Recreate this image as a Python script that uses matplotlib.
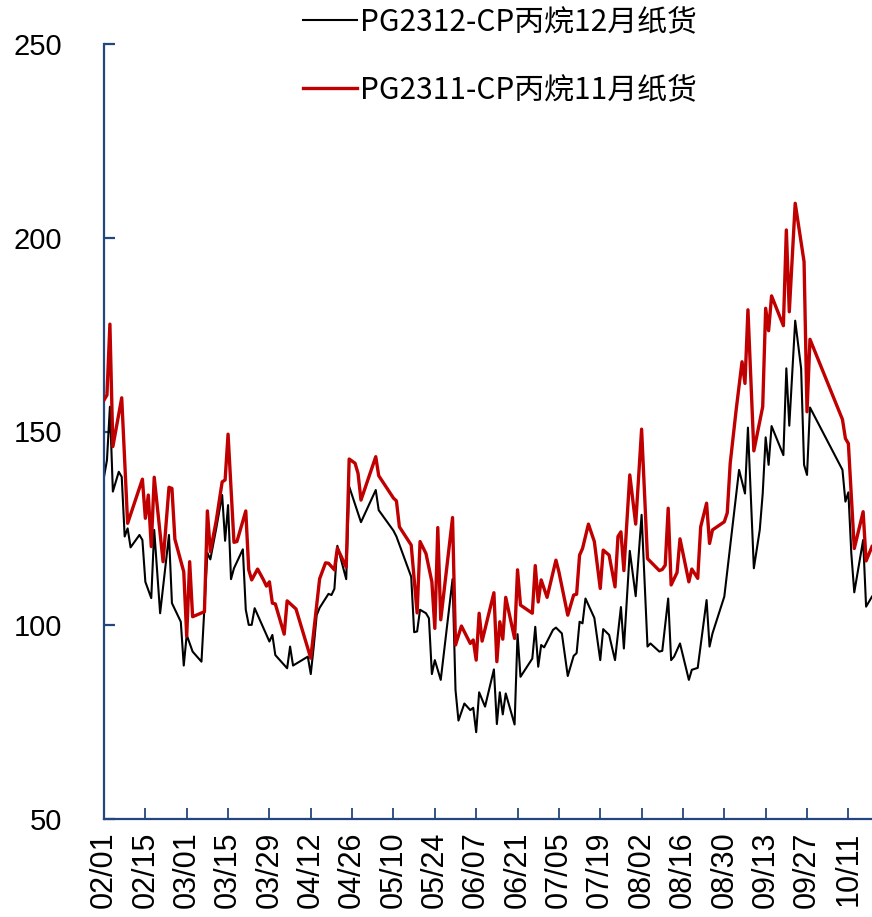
import numpy as np
import matplotlib
matplotlib.use("Agg")
import matplotlib.pyplot as plt
import matplotlib.dates as mdates

# -----------------------------
# Data (days counted from 2023-02-01)
# -----------------------------
start = np.datetime64("2023-02-01")

days_12 = [0, 1, 2, 3, 5, 6, 7, 8, 9, 12,
           13, 14, 16, 17, 19, 22, 23, 26, 27, 28,
           30, 33, 35, 36, 38, 40, 41, 42, 43, 44,
           47, 48, 49, 50, 51, 54, 56, 57, 58, 62,
           63, 64, 69, 70, 71, 72, 73, 76, 77, 78,
           79, 82, 83, 87, 92, 93, 98, 99, 104, 105,
           106, 107, 109, 110, 111, 112, 114, 118, 119, 120,
           122, 124, 125, 126, 127, 129, 132, 133, 134, 135,
           136, 139, 140, 141, 145, 146, 147, 148, 149, 152,
           153, 155, 157, 159, 160, 161, 162, 163, 166, 168,
           169, 171, 173, 175, 176, 178, 180, 182, 184, 185,
           188, 189, 191, 192, 193, 195, 198, 199, 201, 204,
           205, 206, 210, 215, 217, 218, 220, 222, 223, 224,
           225, 226, 230, 231, 232, 234, 236, 237, 238, 239,
           250, 251, 252, 253, 254, 257, 258, 260]
vals_12 = [138.3, 142.6, 156.4, 134.5, 139.6, 138.3, 122.9, 125.0, 120.1, 123.3,
           122.0, 111.2, 107.0, 124.6, 103.1, 123.3, 105.7, 100.9, 89.6, 97.5,
           93.2, 90.6, 118.7, 117.0, 125.0, 133.6, 121.8, 131.0, 111.9, 114.7,
           119.6, 104.0, 100.1, 100.1, 104.4, 99.2, 95.8, 97.5, 92.3, 88.9,
           94.5, 89.6, 91.9, 87.4, 94.5, 102.6, 104.5, 108.1, 107.8, 109.4,
           120.5, 111.9, 135.8, 126.6, 134.9, 129.7, 124.4, 122.9, 112.5, 98.2,
           98.4, 104.0, 103.1, 101.8, 87.4, 91.0, 85.9, 111.9, 83.3, 75.4,
           79.8, 78.1, 78.7, 72.4, 82.7, 79.0, 88.6, 74.5, 82.7, 77.0,
           82.4, 74.4, 97.7, 86.7, 91.4, 99.6, 89.3, 94.9, 94.3, 98.8,
           99.4, 97.9, 86.9, 92.1, 92.8, 100.9, 100.5, 106.9, 101.9, 91.0,
           99.0, 97.5, 91.0, 104.7, 94.0, 119.2, 107.5, 128.5, 94.5, 95.3,
           93.2, 93.4, 106.9, 91.0, 91.9, 95.3, 85.9, 88.5, 89.0, 106.5,
           94.5, 97.9, 107.4, 140.1, 134.0, 151.0, 114.7, 124.6, 134.0, 148.5,
           141.4, 151.4, 143.9, 166.3, 151.5, 178.6, 166.3, 141.4, 138.8, 156.2,
           140.1, 131.9, 134.3, 118.5, 108.5, 122.0, 104.8, 107.4]

days_11 = [0, 1, 2, 3, 6, 8, 13, 14, 15, 16,
           17, 20, 22, 23, 24, 27, 28, 29, 30, 34,
           35, 36, 38, 40, 41, 42, 44, 45, 48, 49,
           50, 52, 54, 55, 56, 57, 58, 61, 62, 65,
           70, 73, 75, 76, 78, 79, 82, 83, 85, 86,
           87, 92, 93, 98, 99, 100, 104, 106, 107, 109,
           111, 112, 113, 114, 118, 119, 121, 124, 125, 126,
           127, 128, 132, 133, 134, 135, 136, 139, 140, 141,
           145, 146, 147, 148, 150, 153, 154, 157, 159, 160,
           161, 162, 164, 166, 168, 169, 171, 173, 174, 175,
           176, 178, 180, 182, 184, 188, 189, 190, 191, 192,
           194, 195, 198, 199, 201, 202, 204, 205, 206, 210,
           211, 212, 214, 216, 217, 218, 220, 223, 224, 225,
           226, 230, 231, 232, 234, 237, 238, 239, 250, 251,
           252, 254, 257, 258, 260]
vals_11 = [158.1, 159.4, 177.7, 146.1, 158.7, 126.3, 137.7, 127.6, 133.6, 120.3,
           138.2, 116.4, 135.6, 135.3, 122.2, 113.8, 97.2, 116.4, 102.2, 103.5,
           129.5, 119.0, 127.0, 137.0, 137.5, 149.3, 121.4, 121.6, 129.5, 114.3,
           111.7, 114.5, 111.7, 110.1, 111.2, 105.7, 105.5, 97.7, 106.3, 104.2,
           91.5, 112.0, 116.1, 116.0, 114.3, 119.9, 115.0, 142.9, 141.8, 139.2,
           132.3, 143.5, 138.6, 132.8, 132.1, 125.4, 120.7, 103.2, 121.6, 118.5,
           111.2, 99.2, 125.2, 101.4, 127.8, 94.9, 99.8, 95.3, 96.2, 91.0,
           103.1, 95.9, 108.4, 90.6, 100.9, 96.4, 107.2, 96.6, 114.3, 105.2,
           103.1, 115.4, 106.0, 111.7, 107.2, 116.8, 113.8, 102.6, 107.8, 108.0,
           118.1, 119.8, 126.1, 121.6, 109.5, 119.4, 118.1, 109.9, 122.9, 124.1,
           114.1, 138.8, 126.1, 150.6, 117.2, 114.1, 114.4, 115.5, 130.2, 110.4,
           113.6, 122.3, 111.2, 114.5, 112.1, 125.4, 131.5, 121.1, 124.6, 126.7,
           129.0, 141.8, 155.5, 168.0, 162.4, 181.4, 145.0, 156.4, 181.8, 176.0,
           185.0, 177.3, 202.0, 180.9, 208.9, 193.8, 155.1, 173.8, 153.1, 148.2,
           146.9, 119.8, 129.3, 116.6, 120.3]

label_12 = "PG2312-CP丙烷12月纸货"
label_11 = "PG2311-CP丙烷11月纸货"
tick_days = list(range(0, 253, 14))
y_ticks = [50, 100, 150, 200, 250]

dates_12 = start + np.array(days_12, dtype="timedelta64[D]")
dates_11 = start + np.array(days_11, dtype="timedelta64[D]")
tick_dates = start + np.array(tick_days, dtype="timedelta64[D]")

# -----------------------------
# Plot
# -----------------------------
plt.rcParams["font.family"] = ["Liberation Sans", "DejaVu Sans"]
axis_color = "#23467e"

fig = plt.figure(figsize=(8.72, 9.17), dpi=100)
ax = fig.add_axes([104 / 872, 98 / 917, 768 / 872, 775 / 917])

l12, = ax.plot(dates_12, vals_12, color="black", lw=1.5, zorder=2)
l11, = ax.plot(dates_11, vals_11, color="#c00000", lw=2.4, zorder=3)

ax.set_ylim(50, 250)
ax.set_yticks(y_ticks)
ax.set_xlim(start, start + np.timedelta64(260, "D"))
ax.set_xticks(tick_dates)
ax.xaxis.set_major_formatter(mdates.DateFormatter("%m/%d"))

for side in ["top", "right"]:
    ax.spines[side].set_visible(False)
for side in ["left", "bottom"]:
    ax.spines[side].set_color(axis_color)
    ax.spines[side].set_linewidth(1.6)

ax.tick_params(axis="y", direction="in", length=8, width=1.6, color=axis_color,
               labelsize=21, pad=30)
ax.tick_params(axis="x", direction="in", length=8, width=1.3, color=axis_color,
               labelsize=22, pad=9, labelrotation=90)

fig.legend([l12, l11], [label_12, label_11], loc="center left",
           bbox_to_anchor=(303 / 872, 1 - 56 / 917), frameon=False,
           prop={"family": ["Noto Sans CJK SC", "DejaVu Sans"], "size": 21.5},
           handlelength=1.8, handletextpad=0.1, labelspacing=1.25,
           borderpad=0, borderaxespad=0)

fig.savefig("out.png", dpi=100)
